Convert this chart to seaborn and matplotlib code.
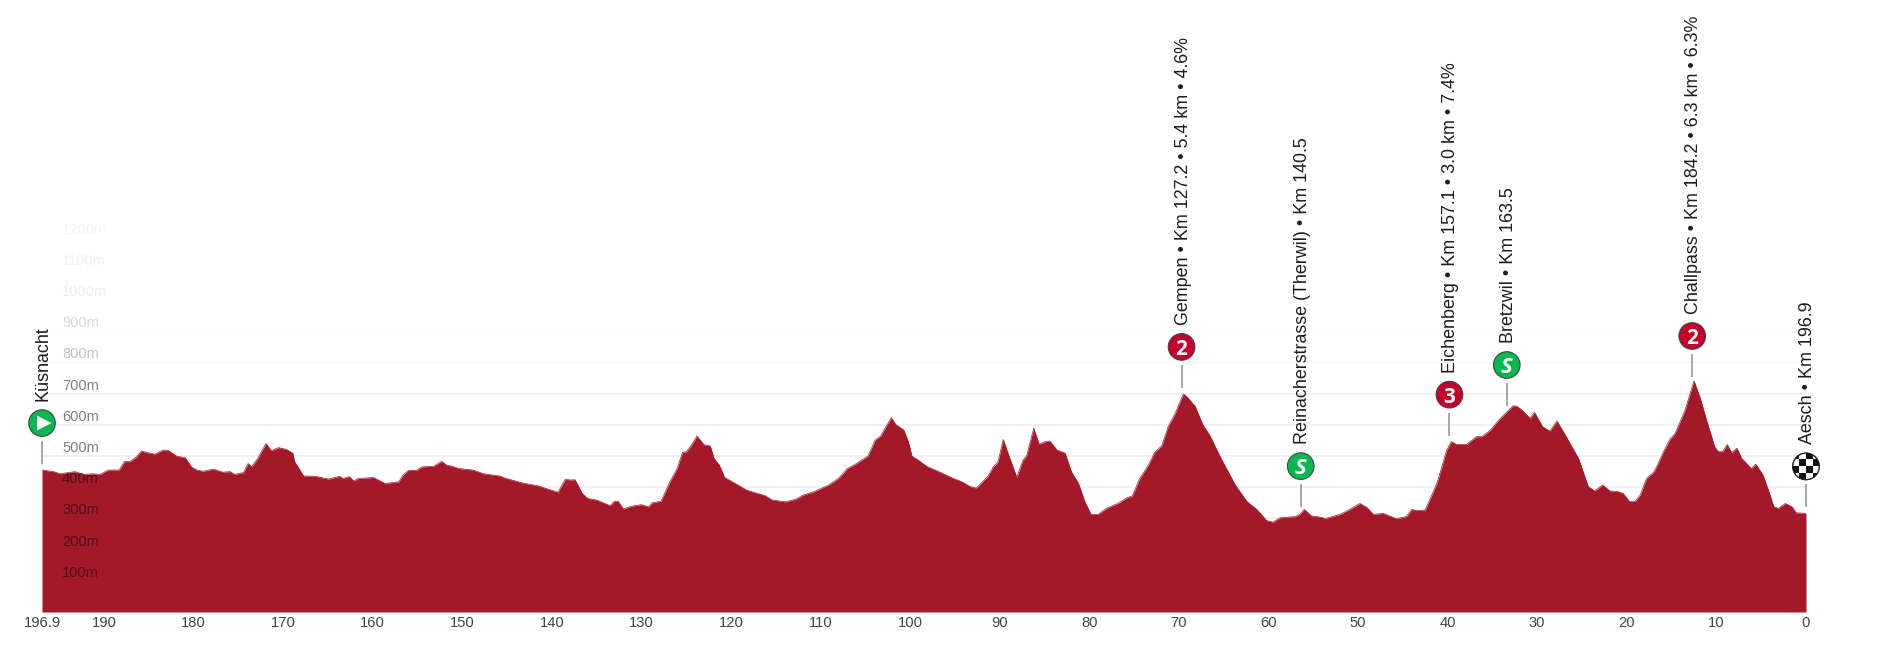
import matplotlib
matplotlib.use("Agg")
import matplotlib.pyplot as plt
from matplotlib.patches import Circle, Rectangle, Polygon
import seaborn as sns
import pandas as pd

# profile: km to go / altitude in metres
km_to_go = [196.9,195.6,194.9,193.2,192.3,191.2,190.4,189.5,188.3,187.7,187.1,186.4,185.8,185.2,184.3,183.4,182.8,181.9,180.9,180.2,
            179.6,178.9,177.8,176.7,175.9,175.4,174.4,173.9,173.5,172.8,171.9,171.3,170.5,169.6,168.9,168.7,167.7,166.4,164.9,163.7,
            163.3,162.6,162.1,161.6,159.9,158.6,157.1,156.6,156.0,155.1,154.5,153.2,152.3,151.7,151.2,150.4,148.8,147.6,145.8,145.2,
            143.2,141.6,140.1,139.3,138.5,137.8,137.4,136.6,136.0,135.0,133.5,133.0,132.6,132.0,131.1,130.0,129.2,128.8,127.8,126.8,
            126.0,125.4,125.0,124.4,123.8,123.0,122.3,121.9,121.3,120.7,120.0,118.2,116.2,115.4,113.9,112.7,112.0,110.7,109.1,108.0,
            107.0,106.1,104.7,103.9,103.3,102.1,101.6,100.7,100.2,99.8,99.1,98.1,97.2,96.5,95.5,94.2,93.3,92.6,92.0,91.3,
            90.7,90.2,89.6,89.0,88.1,87.4,87.0,86.2,85.6,84.9,84.4,83.6,82.7,82.0,81.2,80.5,79.8,79.0,78.1,76.8,
            75.8,75.2,74.4,73.4,72.7,71.9,71.2,70.4,69.5,69.1,68.2,67.3,66.5,65.4,63.7,62.4,61.3,60.2,59.5,58.7,
            57.0,56.5,56.0,55.2,54.0,53.7,52.0,50.9,49.8,49.0,48.3,47.2,45.7,44.6,44.0,43.5,42.5,41.2,40.1,39.6,
            39.0,37.9,36.8,36.2,35.3,34.2,32.7,32.3,31.7,30.8,30.3,29.4,28.6,27.8,26.9,26.2,25.4,24.3,23.6,22.7,
            21.9,21.0,20.4,19.7,19.1,18.5,17.8,17.0,16.5,15.9,15.2,14.6,13.5,12.5,11.8,11.1,10.2,9.8,9.3,8.8,
            8.3,7.7,7.2,6.1,5.6,4.8,4.2,3.6,3.1,2.3,1.6,1.1,0.0]
altitude = [455,450,443,450,441,443,441,455,455,482,482,496,516,511,506,519,518,500,494,464,
            455,451,458,448,450,441,447,476,466,493,540,517,527,521,509,482,436,435,426,435,
            428,434,420,428,431,412,417,439,454,454,465,467,483,470,468,460,455,443,436,429,
            413,405,391,384,425,423,424,380,364,359,341,355,355,330,339,344,337,350,355,418,
            460,512,513,535,564,536,532,493,471,431,420,390,373,359,353,362,374,386,407,428,
            460,474,500,551,564,623,601,583,546,500,487,466,455,446,432,417,402,397,415,436,
            466,480,553,503,432,487,500,589,538,546,548,519,509,450,412,354,313,313,332,348,
            366,372,426,471,512,533,594,637,699,690,660,599,564,498,407,354,329,293,288,302,
            306,313,329,308,303,299,313,329,348,335,313,316,299,306,329,325,327,412,519,546,
            537,537,562,562,581,618,661,660,647,621,640,594,580,612,569,533,493,402,388,407,
            388,386,380,354,354,375,428,448,476,514,553,573,647,741,685,615,530,514,514,537,
            511,525,493,460,474,439,391,338,332,348,338,318,316]

x_ticks = [196.9,190,180,170,160,150,140,130,120,110,100,90,80,70,60,50,40,30,20,10,0]
x_labels = ["196.9","190","180","170","160","150","140","130","120","110","100","90","80","70","60","50","40","30","20","10","0"]

grid_levels = [100,200,300,400,500,600,700,800,900,1000,1100,1200]
grid_alpha = [1,1,1,1,1,1,1,.6,.25,.06,.03,.02]
label_alpha = [.5,.5,.5,.5,.5,.5,.5,.24,.15,.07,.05,.04]

place_km = [196.9,69.7,56.4,39.8,33.4,12.7,0]
place_alt = [455,699,317,546,641,734,316]
place_kind = ["start","2","S","3","S","2","finish"]
place_text = ["Küsnacht",
              "Gempen • Km 127.2 • 5.4 km • 4.6%",
              "Reinacherstrasse (Therwil) • Km 140.5",
              "Eichenberg • Km 157.1 • 3.0 km • 7.4%",
              "Bretzwil • Km 163.5",
              "Challpass • Km 184.2 • 6.3 km • 6.3%",
              "Aesch • Km 196.9"]

sns.set_theme(style="white")
plt.rcParams["font.family"] = ["Liberation Sans", "DejaVu Sans"]

W, H = 1891, 672
fig = plt.figure(figsize=(W/100, H/100), dpi=100)
ax = fig.add_axes([42/W, (H-612)/H, 1764/W, 612/H])

df = pd.DataFrame({"km": km_to_go, "alt": altitude})
red = "#a31929"
for lev, a in zip(grid_levels, grid_alpha):
    ax.axhline(lev, color="#eeeeee", lw=1.1, alpha=a, zorder=1)
ax.fill_between(df["km"], 0, df["alt"], color=red, lw=0, zorder=2)
sns.lineplot(data=df, x="km", y="alt", color=red, lw=0.5, estimator=None, sort=False, ax=ax, zorder=3)

ax.set_xlim(196.9, 0)
ax.set_ylim(0, 612/0.312)
ax.set_xlabel("")
ax.set_ylabel("")
ax.set_yticks([])
ax.set_xticks(x_ticks)
ax.set_xticklabels(x_labels, fontsize=10.6, color="#444444")
ax.tick_params(axis="x", length=0, pad=3)
sns.despine(ax=ax, left=True, bottom=True, top=True, right=True)
ax.patch.set_alpha(0)

for lev, a in zip(grid_levels, label_alpha):
    ax.annotate(f"{lev}m", xy=(196.9, lev), xytext=(14.4, 5.8), textcoords="offset points",
                fontsize=10.5, color="black", alpha=a, va="center", ha="left", zorder=4)

# pixel overlay for the place markers
ov = fig.add_axes([0, 0, 1, 1])
ov.set_xlim(0, W)
ov.set_ylim(H, 0)
ov.axis("off")

for km, alt, kind, txt in zip(place_km, place_alt, place_kind, place_text):
    px, py = ax.transData.transform((km, alt))
    py = H - py
    cy = py - 47
    ov.plot([px, px], [py-6, py-29], color="#999999", lw=1.2, solid_capstyle="butt")
    green = kind in ("start", "S")
    face = "#06b84e" if green else "#c4002b"
    if kind == "finish":
        face = "white"
    circ = Circle((px, cy), 13.3, facecolor=face, edgecolor="#444444", lw=0.8, zorder=5)
    ov.add_patch(circ)
    if kind == "start":
        ov.add_patch(Polygon([(px-5, cy-7.5), (px+9.5, cy), (px-5, cy+7.5)], color="white", lw=0, zorder=6))
    elif kind == "finish":
        cell = 7
        for i in range(-2, 2):
            for j in range(-2, 2):
                if (i+j) % 2 == 0:
                    r = Rectangle((px+i*cell, cy+j*cell), cell, cell, color="#111111", lw=0, zorder=6)
                    ov.add_patch(r)
                    r.set_clip_path(circ)
        ov.add_patch(Circle((px, cy), 13.3, fill=False, edgecolor="#222222", lw=0.8, zorder=7))
    elif kind == "S":
        ov.text(px, cy, "S", color="white", fontsize=16, fontweight="bold", fontstyle="italic",
                family="Open Sans", ha="center", va="center_baseline", zorder=6)
    else:
        ov.text(px, cy, kind, color="white", fontsize=15, fontweight="bold",
                family="Open Sans", ha="center", va="center_baseline", zorder=6)
    ov.text(px+1.5, cy-22, txt, rotation=90, rotation_mode="anchor", ha="left", va="center",
            fontsize=12.9, color="#1c1c1c", zorder=6)

fig.savefig("out.png", dpi=100, facecolor="white")
